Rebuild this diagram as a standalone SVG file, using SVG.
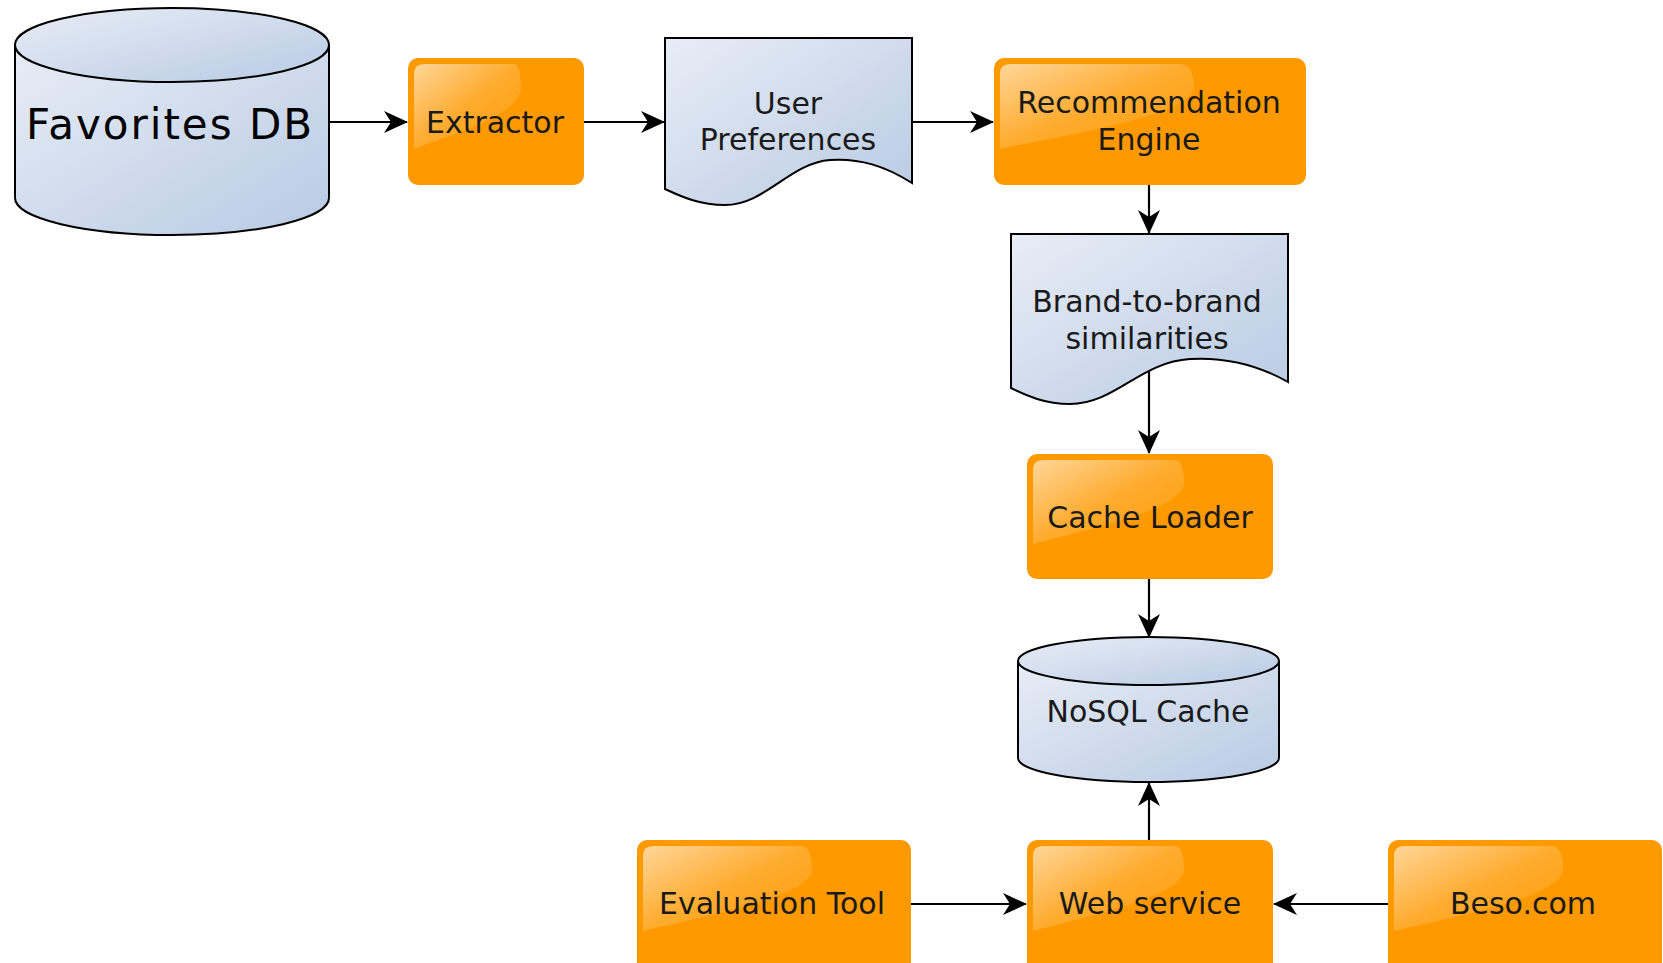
<svg xmlns="http://www.w3.org/2000/svg" width="1663" height="963" viewBox="0 0 1663 963">
<defs>
<linearGradient id="blue" x1="0" y1="0" x2="1" y2="1">
<stop offset="0" stop-color="#e8edf6"/>
<stop offset="1" stop-color="#b8cae3"/>
</linearGradient>
<linearGradient id="gloss" x1="0" y1="0" x2="1" y2="1">
<stop offset="0" stop-color="#ffffff" stop-opacity="0.6"/>
<stop offset="0.5" stop-color="#ffffff" stop-opacity="0.18"/>
<stop offset="1" stop-color="#ffffff" stop-opacity="0.04"/>
</linearGradient>
<marker id="arr" viewBox="0 0 24 22" markerWidth="24" markerHeight="22" refX="23" refY="11" orient="auto" markerUnits="userSpaceOnUse">
<path d="M0,0 L24,11 L0,22 L7,11 Z" fill="#000"/>
</marker>
</defs>
<style>
.blue{fill:url(#blue);stroke:#000;stroke-width:2}
.org{fill:#ff9900}
.gl{fill:url(#gloss)}
.t{font-family:"DejaVu Sans",sans-serif;font-size:30px;fill:#1a1a1a;text-anchor:middle;dominant-baseline:central}
.big{font-size:42px;letter-spacing:2px;fill:#000}
.c{stroke:#000;stroke-width:2.2;fill:none;marker-end:url(#arr)}
</style>
<rect width="1663" height="963" fill="#fff"/>
<g id="connectors">
<line class="c" x1="329" y1="122" x2="407" y2="122"/>
<line class="c" x1="584" y1="122" x2="664" y2="122"/>
<line class="c" x1="912" y1="122" x2="993" y2="122"/>
<line class="c" x1="1149" y1="185" x2="1149" y2="233"/>
<line class="c" x1="1149" y1="370" x2="1149" y2="453"/>
<line class="c" x1="1149" y1="579" x2="1149" y2="637"/>
<line class="c" x1="1149" y1="840" x2="1149" y2="783"/>
<line class="c" x1="911" y1="904" x2="1026" y2="904"/>
<line class="c" x1="1388" y1="904" x2="1274" y2="904"/>
</g>
<g id="favorites-db">
<path class="blue" d="M15,45 L15,198 A157,37 0 0 0 329,198 L329,45"/>
<ellipse class="blue" cx="172" cy="45" rx="157" ry="37"/>
<text class="t big" x="170" y="124">Favorites DB</text>
</g>
<g id="extractor">
<rect class="org" x="408" y="58" width="176" height="127" rx="10"/>
<path class="gl" d="M414,74 Q414,64 424,64 H514 Q521,64 521,90 C514,115 470,128 414,149 Z"/>
<text class="t" x="495" y="122">Extractor</text>
</g>
<g id="user-preferences">
<path class="blue" d="M665,38 H912 V183 C885,166 860,158 830,160 C790,163 765,205 725,205 C700,205 682,197 665,189 Z"/>
<text class="t" x="788" y="103">User</text>
<text class="t" x="788" y="139">Preferences</text>
</g>
<g id="recommendation-engine">
<rect class="org" x="994" y="58" width="312" height="127" rx="10"/>
<path class="gl" d="M1000,74 Q1000,64 1010,64 H1181 Q1194,64 1194,90 C1181,115 1103,128 1000,149 Z"/>
<text class="t" x="1149" y="102">Recommendation</text>
<text class="t" x="1149" y="139">Engine</text>
</g>
<g id="brand-similarities">
<path class="blue" d="M1011,234 H1288 V382 C1258,365 1225,357 1190,359 C1140,362 1115,404 1070,404 C1045,404 1027,396 1011,388 Z"/>
<text class="t" x="1147" y="301">Brand-to-brand</text>
<text class="t" x="1147" y="338">similarities</text>
</g>
<g id="cache-loader">
<rect class="org" x="1027" y="454" width="246" height="125" rx="10"/>
<path class="gl" d="M1033,470 Q1033,460 1043,460 H1175 Q1184,460 1184,485 C1175,510 1113,523 1033,544 Z"/>
<text class="t" x="1150" y="517">Cache Loader</text>
</g>
<g id="nosql-cache">
<path class="blue" d="M1018,661 L1018,758 A130.5,24 0 0 0 1279,758 L1279,661"/>
<ellipse class="blue" cx="1148.5" cy="661" rx="130.5" ry="24"/>
<text class="t" x="1148" y="711">NoSQL Cache</text>
</g>
<g id="evaluation-tool">
<rect class="org" x="637" y="840" width="274" height="140" rx="10"/>
<path class="gl" d="M643,856 Q643,846 653,846 H801 Q812,846 812,872 C801,897 733,910 643,931 Z"/>
<text class="t" x="772" y="903">Evaluation Tool</text>
</g>
<g id="web-service">
<rect class="org" x="1027" y="840" width="246" height="140" rx="10"/>
<path class="gl" d="M1033,856 Q1033,846 1043,846 H1175 Q1184,846 1184,872 C1175,897 1113,910 1033,931 Z"/>
<text class="t" x="1150" y="903">Web service</text>
</g>
<g id="beso-com">
<rect class="org" x="1388" y="840" width="274" height="140" rx="10"/>
<path class="gl" d="M1394,856 Q1394,846 1404,846 H1552 Q1563,846 1563,872 C1552,897 1484,910 1394,931 Z"/>
<text class="t" x="1523" y="903">Beso.com</text>
</g>
</svg>
